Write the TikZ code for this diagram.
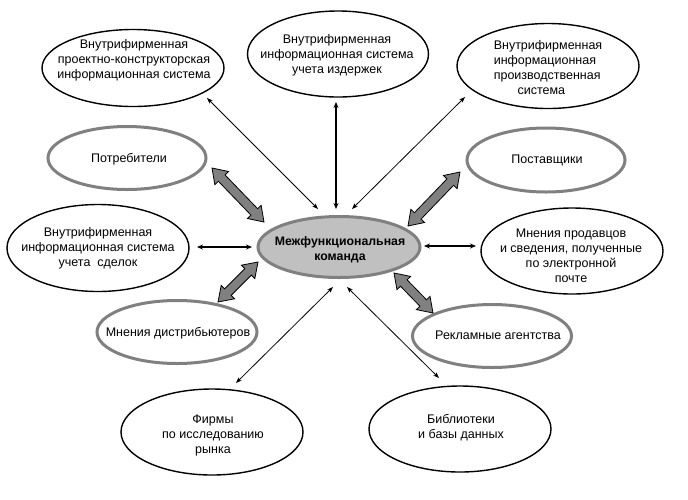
\documentclass[tikz,border=0pt]{standalone}
\usepackage{fontspec}
\setmainfont{Liberation Sans}
\usetikzlibrary{shapes.geometric,arrows.meta,calc}
\definecolor{bordgray}{RGB}{128,128,128}
\definecolor{fillgray}{RGB}{192,192,192}
\definecolor{arrgray}{RGB}{128,128,128}
\newcommand\fatH{14pt}
\newcommand\fatW{9.5pt}
\newcommand\fatw{4.6pt}
\newcommand\fatarrow[2]{%
\draw[fatarr] (#1)
 -- ($(#1)!\fatH!(#2)!\fatW!90:(#2)$)
 -- ($(#1)!\fatH!(#2)!\fatw!90:(#2)$)
 -- ($(#2)!\fatH!(#1)!\fatw!-90:(#1)$)
 -- ($(#2)!\fatH!(#1)!\fatW!-90:(#1)$)
 -- (#2)
 -- ($(#2)!\fatH!(#1)!\fatW!90:(#1)$)
 -- ($(#2)!\fatH!(#1)!\fatw!90:(#1)$)
 -- ($(#1)!\fatH!(#2)!\fatw!-90:(#2)$)
 -- ($(#1)!\fatH!(#2)!\fatW!-90:(#2)$)
 -- cycle;}
\tikzset{
  bell/.style={ellipse, draw=black, line width=1.4pt, inner sep=0pt},
  gell/.style={ellipse, draw=bordgray, line width=3pt, inner sep=0pt},
  cell/.style={ellipse, draw=bordgray, fill=fillgray, line width=3pt, inner sep=0pt},
  txt/.style={align=center, inner sep=0pt, font=\fontsize{12.5}{15}\selectfont},
  thin/.style={line width=0.8pt, {Stealth[length=6pt,width=4.5pt]}-{Stealth[length=6pt,width=4.5pt]}},
  thick/.style={line width=1.8pt, {Stealth[length=6pt,width=5pt]}-{Stealth[length=6pt,width=5pt]}},
  fatarr/.style={draw=black, fill=arrgray, line width=0.8pt, line join=miter}
}
\begin{document}
\begin{tikzpicture}[x=1pt,y=-1pt]
\useasboundingbox (0,0) rectangle (688,499);
\fill[white] (0,0) rectangle (688,499);
% ellipses
\node[bell, minimum width=182pt, minimum height=77pt] (e1) at (133,68) {};
\node[txt] (t1) at (134,60) {Внутрифирменная\\проектно-конструкторская\\информационная система};
\node[bell, minimum width=181pt, minimum height=86pt] (e2) at (338,54) {};
\node[txt] (t2) at (337,55) {Внутрифирменная\\информационная система\\учета издержек};
\node[bell, minimum width=182pt, minimum height=85pt] (e3) at (548,66) {};
\node[txt, align=left] (t3) at (548,68) {Внутрифирменная\\информационная\\производственная\\\hspace*{1.9em}система};
\node[gell, minimum width=158pt, minimum height=63pt] (e4) at (127,158) {};
\node[txt] (t4) at (129,159) {Потребители};
\node[gell, minimum width=158pt, minimum height=64pt] (e5) at (546,160) {};
\node[txt] (t5) at (547,160) {Поставщики};
\node[bell, minimum width=182pt, minimum height=87pt] (e6) at (98,248) {};
\node[txt] (t6) at (98,248) {Внутрифирменная\\информационная система\\учета\ \ сделок};
\node[cell, minimum width=162pt, minimum height=61pt] (c) at (339,247) {};
\node[txt, font=\fontsize{12.3}{15}\selectfont\bfseries] (tc) at (340,250) {Межфункциональная\\команда};
\node[bell, minimum width=182pt, minimum height=86pt] (e7) at (572,251) {};
\node[txt] (t7) at (571,256) {Мнения продавцов\\и сведения, полученные\\по электронной\\почте};
\node[gell, minimum width=160pt, minimum height=63pt] (e8) at (177,332) {};
\node[txt] (t8) at (178,333) {Мнения дистрибьютеров};
\node[gell, minimum width=159pt, minimum height=63pt] (e9) at (492,336) {};
\node[txt] (t9) at (498,335) {Рекламные агентства};
\node[bell, minimum width=182pt, minimum height=86pt] (e10) at (212,432) {};
\node[txt] (t10) at (213,435) {Фирмы\\по исследованию\\рынка};
\node[bell, minimum width=182pt, minimum height=86pt] (e11) at (460,429) {};
\node[txt] (t11) at (461,428) {Библиотеки\\и базы данных};
% arrow end coordinates
\coordinate (a1s) at (318,209); \coordinate (a1e) at (207,98);
\coordinate (a2s) at (336,209); \coordinate (a2e) at (336,102);
\coordinate (a3s) at (352,209); \coordinate (a3e) at (465,97);
\coordinate (a4s) at (252,247); \coordinate (a4e) at (197,247);
\coordinate (a5s) at (424,246); \coordinate (a5e) at (476,246);
\coordinate (a6s) at (333,287); \coordinate (a6e) at (236,383);
\coordinate (a7s) at (347,287); \coordinate (a7e) at (439,378);
\draw[thin] (a1s) -- (a1e);
\draw[thick] (a2s) -- (a2e);
\draw[thin] (a3s) -- (a3e);
\draw[thick] (a4s) -- (a4e);
\draw[thick] (a5s) -- (a5e);
\draw[thin] (a6s) -- (a6e);
\draw[thin] (a7s) -- (a7e);
% fat arrows
\coordinate (f1s) at (212,168); \coordinate (f1e) at (264,222);
\coordinate (f2s) at (460,172); \coordinate (f2e) at (408,226);
\coordinate (f3s) at (258,262); \coordinate (f3e) at (218,302);
\coordinate (f4s) at (394,273); \coordinate (f4e) at (433,313);
\fatarrow{f1s}{f1e}
\fatarrow{f2s}{f2e}
\fatarrow{f3s}{f3e}
\fatarrow{f4s}{f4e}
\end{tikzpicture}
\end{document}
